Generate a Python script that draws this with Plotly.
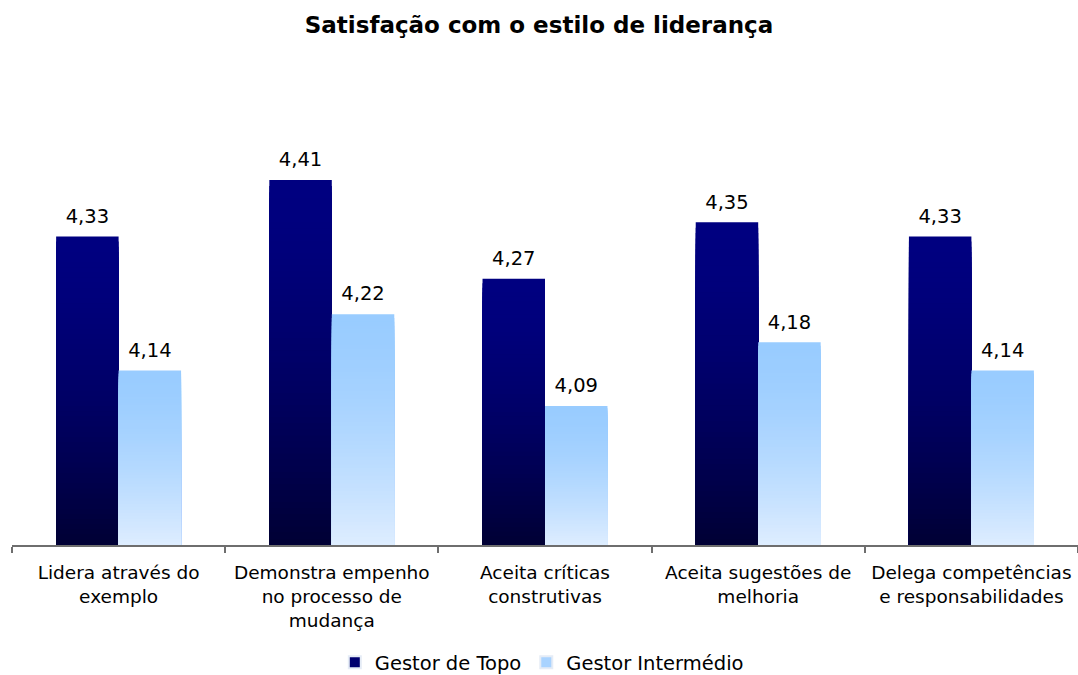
import plotly.graph_objects as go

categories = [
    "Lidera através do<br>exemplo",
    "Demonstra empenho<br>no processo de<br>mudança",
    "Aceita críticas<br>construtivas",
    "Aceita sugestões de<br>melhoria",
    "Delega competências<br>e responsabilidades",
]
series_names = ["Gestor de Topo", "Gestor Intermédio"]
gestor_topo = [4.33, 4.41, 4.27, 4.35, 4.33]
gestor_intermedio = [4.14, 4.22, 4.09, 4.18, 4.14]

AXIS_MIN = 3.893
AXIS_MAX = 4.5233
BAR_W = 0.293
N_STEPS = 60
LABEL_PAD = 0.008
FONT = "DejaVu Sans, Verdana, sans-serif"

styles = [
    dict(values=gestor_topo, offset=-BAR_W, top=(0, 0, 128), bottom=(0, 0, 52), legend="#000070"),
    dict(values=gestor_intermedio, offset=0.0, top=(153, 204, 255), bottom=(222, 237, 255), legend="#a9d3ff"),
]


def mix(c1, c2, f):
    return "rgb(%d,%d,%d)" % tuple(round(a + (b - a) * f) for a, b in zip(c1, c2))


fig = go.Figure()
for name, st in zip(series_names, styles):
    vals = st["values"]
    # gradient: stacked overlapping bars, each shorter one drawn on top
    for k in range(N_STEPS):
        frac = k / N_STEPS
        f = ((k + 0.5) / N_STEPS) ** 1.6
        heights = [(v - AXIS_MIN) * (1 - frac) for v in vals]
        fig.add_trace(go.Bar(
            x=categories, y=heights, base=AXIS_MIN,
            width=BAR_W, offset=st["offset"],
            marker=dict(color=mix(st["top"], st["bottom"], f), line=dict(width=0)),
            showlegend=False, hoverinfo="skip",
        ))
    # value labels (transparent spacer bar carrying the text)
    fig.add_trace(go.Bar(
        x=categories, y=[LABEL_PAD] * len(vals), base=vals,
        width=BAR_W, offset=st["offset"],
        marker=dict(color="rgba(0,0,0,0)", line=dict(width=0)),
        text=[f"{v:.2f}".replace(".", ",") for v in vals],
        textposition="outside", cliponaxis=False,
        textfont=dict(family=FONT, size=19.5, color="#000000"),
        showlegend=False, hoverinfo="skip",
    ))
    # legend entry
    fig.add_trace(go.Bar(
        x=[categories[0]], y=[None], name=name,
        marker=dict(color=st["legend"]), showlegend=True,
    ))

fig.update_layout(
    width=1078, height=675,
    barmode="overlay",
    paper_bgcolor="white", plot_bgcolor="white",
    margin=dict(l=12, r=0, t=100, b=130, autoexpand=False),
    title=dict(
        text="<b>Satisfação com o estilo de liderança</b>",
        x=0.5, xref="container", y=0.963, yref="container",
        xanchor="center", yanchor="middle",
        font=dict(family=FONT, size=23, color="#000000"),
    ),
    font=dict(family=FONT, size=19, color="#000000"),
    legend=dict(
        orientation="h", x=0.497, xanchor="center", y=-0.264, yanchor="middle",
        font=dict(family=FONT, size=19.5, color="#000000"),
        itemsizing="constant", traceorder="normal", itemwidth=30,
    ),
    xaxis=dict(
        automargin=False,
        showline=True, linecolor="#6e6e6e", linewidth=1.5,
        ticks="outside", tickson="boundaries", ticklen=6, tickcolor="#6e6e6e", tickwidth=1.5,
        ticklabelstandoff=10,
        showgrid=False, tickfont=dict(family=FONT, size=18.5, color="#000000"),
    ),
    yaxis=dict(
        automargin=False,
        range=[AXIS_MIN, AXIS_MAX], visible=False, showgrid=False,
    ),
)

fig.write_html(
    "out.html",
    config={"displayModeBar": False},
    post_script="document.body.style.margin='0';document.body.style.overflow='hidden';",
)
